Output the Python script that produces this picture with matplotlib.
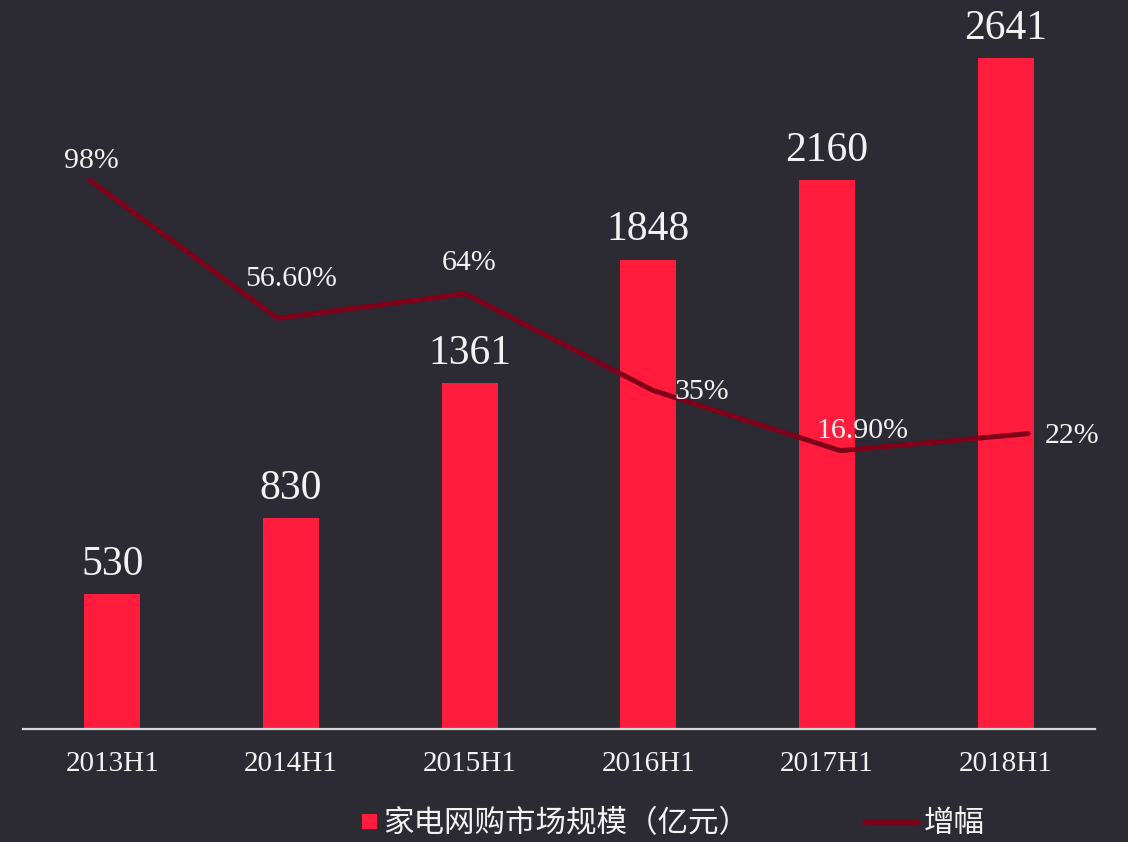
import matplotlib
matplotlib.use("Agg")
import matplotlib.pyplot as plt
from matplotlib.patches import Rectangle
from matplotlib.lines import Line2D

categories = ["2013H1", "2014H1", "2015H1", "2016H1", "2017H1", "2018H1"]
market_size = [530, 830, 1361, 1848, 2160, 2641]
growth = [98, 56.6, 64, 35, 16.9, 22]
growth_labels = ["98%", "56.60%", "64%", "35%", "16.90%", "22%"]
legend_bar = "家电网购市场规模（亿元）"
legend_line = "增幅"

BG = "#2c2b33"
RED = "#ff1c3c"
DARK = "#80001a"
WHITE = "#f2f2f2"
SERIF = ["Liberation Serif", "DejaVu Serif"]
CJK = ["Noto Sans CJK SC", "DejaVu Sans"]

W, H = 1128, 842
fig = plt.figure(figsize=(W / 100, H / 100), dpi=100, facecolor=BG)
rect = [23 / W, 113 / H, 1072 / W, 729 / H]
ax = fig.add_axes(rect)
ax.set_facecolor(BG)

x = list(range(len(categories)))
ax.bar(x, market_size, width=0.313, color=RED, zorder=2)
ax.set_xlim(-0.5, 5.5)
ax.set_ylim(0, 729 / 0.254)
ax.set_xticks(x)
ax.set_xticklabels(categories, fontfamily=SERIF, fontsize=21, color=WHITE)
ax.set_yticks([])
ax.tick_params(axis="x", length=0, pad=16)
for s in ["top", "left", "right"]:
    ax.spines[s].set_visible(False)
ax.spines["bottom"].set_color("#d9d9d9")
ax.spines["bottom"].set_linewidth(1.6)

for xi, v in zip(x, market_size):
    ax.annotate(str(v), (xi, v), xytext=(0, 14), textcoords="offset points",
                ha="center", va="baseline", fontsize=30, color=WHITE,
                fontfamily=SERIF, zorder=3)

ax2 = fig.add_axes(rect, frameon=False)
ax2.patch.set_alpha(0)
ax2.plot(x, growth, color=DARK, lw=3.6, solid_capstyle="round",
         solid_joinstyle="round", zorder=3)
ax2.set_xlim(-0.357, 5.357)
ax2.set_ylim(-66.6, 152.1)
ax2.set_xticks([])
ax2.set_yticks([])

offsets = [(1, 14), (10, 28), (3, 22), (35, -1.5), (16, 14.5), (32, -2)]
for xi, g, lab, off in zip(x, growth, growth_labels, offsets):
    ax2.annotate(lab, (xi, g), xytext=off, textcoords="offset points",
                 ha="center", va="center", fontsize=21.5, color=WHITE,
                 fontfamily=SERIF, zorder=4)

# legend
yc = 1 - 824 / H
fig.add_artist(Rectangle((362 / W, 1 - 829 / H), 15 / W, 15 / H,
                         transform=fig.transFigure, facecolor=RED,
                         edgecolor="none"))
fig.text(383 / W, yc, legend_bar, fontfamily=CJK, fontsize=22, color=WHITE,
         ha="left", va="center")
fig.add_artist(Line2D([865 / W, 918 / W], [1 - 822 / H, 1 - 822 / H],
                      transform=fig.transFigure, color=DARK, lw=4,
                      solid_capstyle="round"))
fig.text(924 / W, yc, legend_line, fontfamily=CJK, fontsize=22, color=WHITE,
         ha="left", va="center")

fig.savefig("out.png", dpi=100, facecolor=BG)
